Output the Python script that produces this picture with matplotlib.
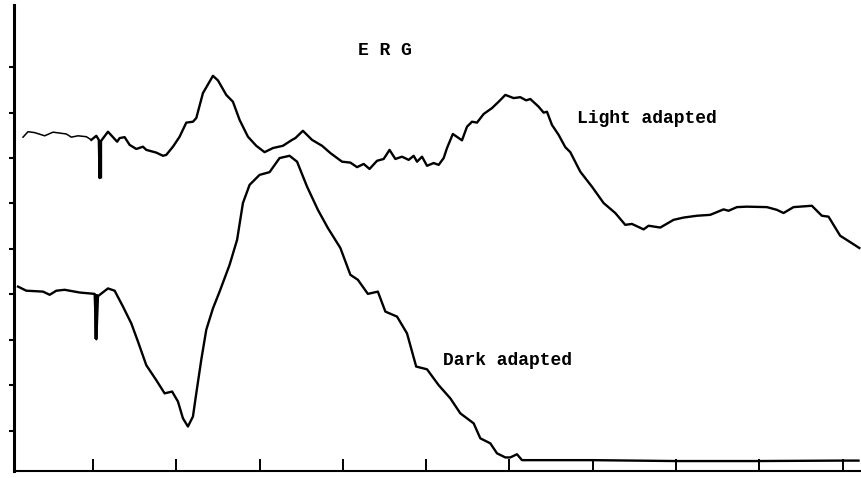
import numpy as np
import matplotlib
matplotlib.use("Agg")
import matplotlib.pyplot as plt

# ERG traces, time in divisions, amplitude in divisions
light_t = [0.16, 0.22, 0.30, 0.42, 0.52, 0.68, 0.74, 0.82, 0.92, 0.98, 1.04, 1.07,
           1.08, 1.09, 1.18, 1.24, 1.29, 1.32, 1.38, 1.44, 1.52, 1.60, 1.64, 1.76,
           1.84, 1.88, 1.96, 2.04, 2.12, 2.20, 2.24, 2.32, 2.44, 2.50, 2.60, 2.68,
           2.76, 2.86, 2.96, 3.06, 3.16, 3.28, 3.39, 3.43, 3.52, 3.63, 3.75, 3.85,
           3.99, 4.09, 4.17, 4.25, 4.32, 4.41, 4.49, 4.56, 4.63, 4.71, 4.79, 4.85,
           4.89, 4.95, 5.01, 5.09, 5.15, 5.21, 5.25, 5.32, 5.43, 5.49, 5.55, 5.61,
           5.69, 5.79, 5.87, 5.95, 6.05, 6.13, 6.20, 6.25, 6.35, 6.41, 6.45, 6.51,
           6.59, 6.67, 6.73, 6.85, 6.99, 7.13, 7.27, 7.39, 7.47, 7.61, 7.67, 7.81,
           7.97, 8.09, 8.25, 8.41, 8.57, 8.63, 8.73, 8.85, 9.09, 9.21, 9.29, 9.41,
           9.63, 9.69, 9.75, 9.83, 9.97, 10.09, 10.20]
light_v = [7.46, 7.58, 7.56, 7.49, 7.57, 7.53, 7.46, 7.49, 7.47, 7.40, 7.49, 7.40,
           6.56, 7.36, 7.58, 7.46, 7.36, 7.44, 7.46, 7.29, 7.20, 7.25, 7.18, 7.12,
           7.05, 7.07, 7.25, 7.47, 7.78, 7.80, 7.88, 8.43, 8.81, 8.71, 8.39, 8.24,
           7.84, 7.47, 7.27, 7.13, 7.22, 7.27, 7.40, 7.44, 7.60, 7.40, 7.27, 7.11,
           6.92, 6.90, 6.80, 6.87, 6.76, 6.94, 6.98, 7.18, 6.98, 7.03, 6.96, 7.05,
           6.92, 7.03, 6.83, 6.89, 6.85, 7.00, 7.22, 7.53, 7.39, 7.69, 7.80, 7.78,
           7.97, 8.10, 8.24, 8.39, 8.32, 8.34, 8.27, 8.30, 8.13, 8.00, 8.02, 7.73,
           7.51, 7.24, 7.13, 6.70, 6.37, 6.01, 5.79, 5.53, 5.55, 5.43, 5.51, 5.47,
           5.64, 5.69, 5.73, 5.75, 5.87, 5.84, 5.92, 5.93, 5.92, 5.86, 5.79, 5.92,
           5.95, 5.84, 5.73, 5.71, 5.29, 5.15, 5.02]

dark_t = [0.10, 0.20, 0.40, 0.48, 0.56, 0.66, 0.84, 1.02, 1.04, 1.06, 1.18, 1.26,
          1.36, 1.46, 1.54, 1.64, 1.76, 1.86, 1.95, 2.02, 2.08, 2.14, 2.20, 2.24,
          2.30, 2.36, 2.44, 2.52, 2.64, 2.73, 2.80, 2.88, 3.00, 3.12, 3.24, 3.36,
          3.45, 3.57, 3.70, 3.82, 3.97, 4.09, 4.18, 4.30, 4.42, 4.51, 4.65, 4.77,
          4.88, 5.01, 5.15, 5.29, 5.41, 5.57, 5.65, 5.77, 5.85, 5.95, 6.01, 6.09,
          6.15, 6.99, 7.99, 8.97, 9.97, 10.19]
dark_v = [4.17, 4.08, 4.06, 3.99, 4.08, 4.10, 4.04, 4.01, 3.01, 3.96, 4.13, 4.08,
          3.73, 3.36, 2.96, 2.44, 2.11, 1.82, 1.86, 1.64, 1.27, 1.09, 1.31, 1.82,
          2.56, 3.22, 3.69, 4.06, 4.65, 5.20, 6.01, 6.41, 6.63, 6.69, 7.00, 7.05,
          6.92, 6.37, 5.86, 5.46, 5.02, 4.43, 4.32, 4.01, 4.06, 3.62, 3.51, 3.14,
          2.41, 2.35, 2.00, 1.71, 1.38, 1.16, 0.83, 0.72, 0.50, 0.41, 0.41, 0.48,
          0.35, 0.35, 0.33, 0.33, 0.34, 0.34]

x_ticks = [1, 2, 3, 4, 5, 6, 7, 8, 9, 10]
y_ticks = [1, 2, 3, 4, 5, 6, 7, 8, 9]

fig = plt.figure(figsize=(8.61, 4.78), dpi=100)
ax = fig.add_axes([0.0157, 0.0136, 0.9843, 0.976])

light_t = np.array(light_t)
light_v = np.array(light_v)
dark_t = np.array(dark_t)
dark_v = np.array(dark_v)

# faint pen at the very start of the light-adapted sweep
lead = light_t <= 0.98
ax.plot(light_t[lead], light_v[lead], color="black", linewidth=1.1)
ax.plot(light_t[9:], light_v[9:], color="black", linewidth=1.7,
        solid_joinstyle="round")
ax.plot(dark_t, dark_v, color="black", linewidth=1.7, solid_joinstyle="round")

# stimulus artefacts: heavy vertical stroke down to the spike minimum
i_l = int(np.argmin(np.where(light_t < 1.5, light_v, 99)))
i_d = int(np.argmin(np.where(dark_t < 1.2, dark_v, 99)))
ax.vlines(light_t[i_l], light_v[i_l], light_v[i_l - 1], color="black",
          linewidth=2.4)
ax.vlines(dark_t[i_d], dark_v[i_d], dark_v[i_d - 1], color="black",
          linewidth=2.6)

font = dict(family=["Liberation Mono", "DejaVu Sans Mono"], fontweight="bold",
            fontsize=13, color="black")
ax.text(4.50, 9.27, "E R G", ha="center", va="baseline", **font)
ax.text(6.81, 7.77, "Light adapted", ha="left", va="baseline", **font)
ax.text(5.20, 2.44, "Dark adapted", ha="left", va="baseline", **font)

ax.set_xlim(0.046, 10.22)
ax.set_ylim(0.10, 10.37)
ax.set_xticks(x_ticks)
ax.set_yticks(y_ticks)
ax.set_xticklabels([])
ax.set_yticklabels([])
ax.tick_params(axis="x", direction="in", length=9, width=1.4, color="black")
ax.tick_params(axis="y", direction="out", length=3.6, width=1.5, color="black")

ax.spines["top"].set_visible(False)
ax.spines["right"].set_visible(False)
ax.spines["left"].set_linewidth(2.2)
ax.spines["bottom"].set_linewidth(1.5)

fig.patch.set_facecolor("white")
fig.savefig("out.png", dpi=100, facecolor="white")
plt.close(fig)
